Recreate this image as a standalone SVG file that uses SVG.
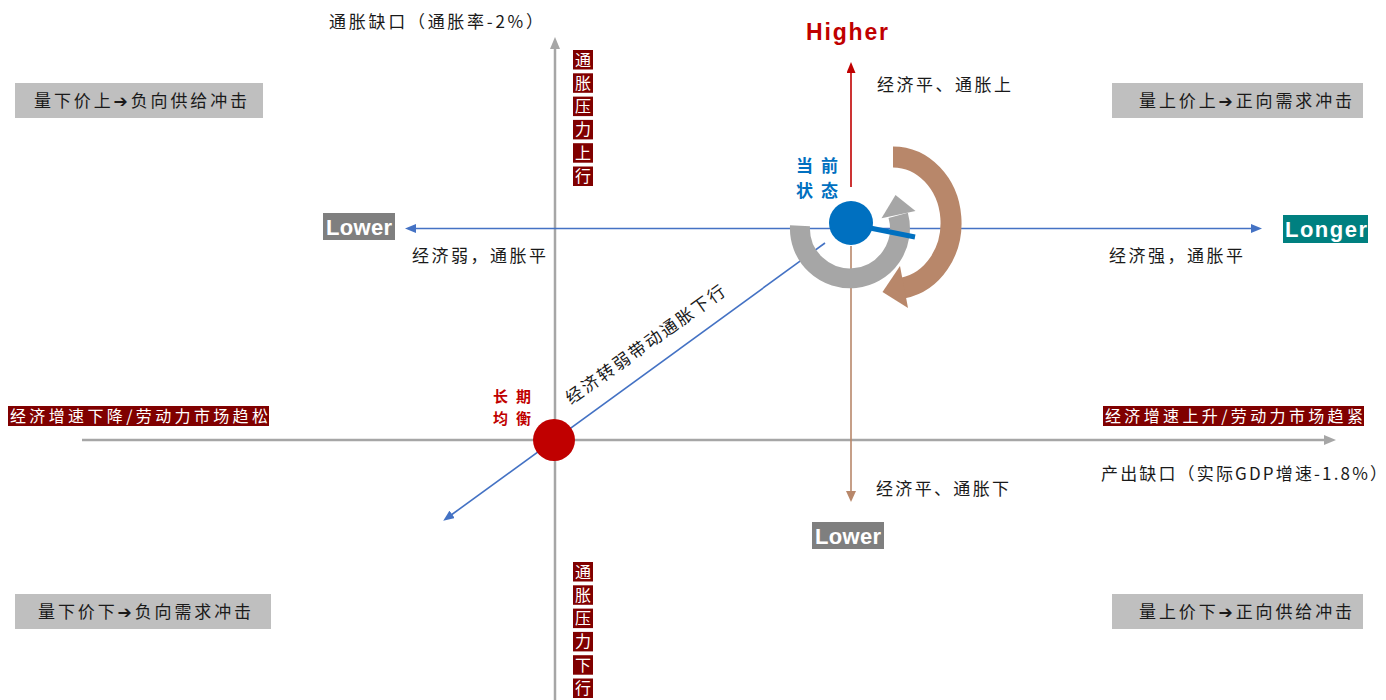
<svg xmlns="http://www.w3.org/2000/svg" width="1386" height="700" viewBox="0 0 1386 700">
<style>
.cn{font-family:"Noto Sans CJK SC","DejaVu Sans",sans-serif;font-size:17px;fill:#1a1a1a}
.arw{font-family:"DejaVu Sans",sans-serif;font-weight:bold}
.wh{font-family:"Noto Sans CJK SC",sans-serif;font-size:16px;fill:#ffffff}
.vb{font-family:"Noto Sans CJK SC",sans-serif;font-size:16px;fill:#ffffff;text-anchor:middle}
.en{font-family:"Liberation Sans",Arial,sans-serif;font-weight:bold;font-size:22px;fill:#ffffff}
.gbox{fill:#BFBFBF}
.rbox{fill:#800000}
.ax{stroke:#A6A6A6;stroke-width:2.5;fill:none}
.bl{stroke:#4472C4;stroke-width:1.6;fill:none}
</style>
<defs>
<marker id="ag" viewBox="0 0 12 10" refX="2" refY="5" markerWidth="12" markerHeight="10" markerUnits="userSpaceOnUse" orient="auto"><path d="M0,0L12,5L0,10z" fill="#A6A6A6"/></marker>
<marker id="ab" viewBox="0 0 11 9" refX="2" refY="4.5" markerWidth="11" markerHeight="9" markerUnits="userSpaceOnUse" orient="auto-start-reverse"><path d="M0,0L11,4.5L0,9z" fill="#4472C4"/></marker>
<marker id="ar" viewBox="0 0 11 9" refX="2" refY="4.5" markerWidth="11" markerHeight="9" markerUnits="userSpaceOnUse" orient="auto"><path d="M0,0L11,4.5L0,9z" fill="#C00000"/></marker>
<marker id="abr" viewBox="0 0 11 10" refX="2" refY="5" markerWidth="11" markerHeight="10" markerUnits="userSpaceOnUse" orient="auto"><path d="M0,0L11,5L0,10z" fill="#B8876A"/></marker>
</defs>

<g id="connectors">
<line class="ax" x1="555" y1="700" x2="555" y2="47" marker-end="url(#ag)"/>
<line class="ax" x1="82" y1="440" x2="1326" y2="440" marker-end="url(#ag)"/>
<line class="bl" x1="414" y1="228.5" x2="1253" y2="228.5" marker-start="url(#ab)" marker-end="url(#ab)"/>
<line stroke="#C00000" stroke-width="1.6" x1="851" y1="187" x2="851" y2="71" marker-end="url(#ar)"/>
<line stroke="#B8876A" stroke-width="1.6" x1="851" y1="246" x2="851" y2="493" marker-end="url(#abr)"/>
<line class="bl" x1="825" y1="243" x2="450.5" y2="515.5" marker-end="url(#ab)"/>
</g>

<g id="cycle">
<path d="M800,225.7 A50,50 0 1 0 898.2,215.3" fill="none" stroke="#A6A6A6" stroke-width="20"/>
<path d="M915.5,211 L895.5,195 L881.5,218.3 Z" fill="#A6A6A6"/>
<path d="M893,157 A58,66 0 0 1 903.1,288" fill="none" stroke="#B8876A" stroke-width="21"/>
<path d="M908,308 L882.5,292 L900,266 Z" fill="#B8876A"/>
</g>

<g id="current-state">
<circle cx="851" cy="223" r="22" fill="#0070C0"/>
<line x1="870" y1="228" x2="915" y2="237" stroke="#0070C0" stroke-width="5"/>
<text class="cn" x="796" y="172" textLength="42" style="font-weight:bold;fill:#0070C0">当前</text>
<text class="cn" x="796" y="197" textLength="42" style="font-weight:bold;fill:#0070C0">状态</text>
</g>

<g id="long-run-equilibrium">
<circle cx="554" cy="440" r="21" fill="#C00000"/>
<text class="cn" x="493" y="401.5" textLength="38" style="font-weight:bold;fill:#C00000;font-size:15px">长期</text>
<text class="cn" x="493" y="423.5" textLength="38" style="font-weight:bold;fill:#C00000;font-size:15px">均衡</text>
</g>

<g id="y-axis-title"><text class="cn" x="329" y="28" textLength="214">通胀缺口（通胀率-2%）</text></g>
<g id="x-axis-title"><text class="cn" x="1101" y="480" textLength="286">产出缺口（实际GDP增速-1.8%）</text></g>

<g id="higher"><text class="en" x="806" y="40" textLength="82" style="fill:#C00000;font-size:23px">Higher</text></g>
<g id="lower-left"><rect x="323" y="213" width="72" height="27" fill="#7F7F7F"/><text class="en" x="326" y="234.5" textLength="66">Lower</text></g>
<g id="longer"><rect x="1283" y="215" width="85" height="28" fill="#008080"/><text class="en" x="1285" y="237" textLength="82">Longer</text></g>
<g id="lower-bottom"><rect x="812" y="522" width="72" height="27" fill="#7F7F7F"/><text class="en" x="815" y="543.5" textLength="66">Lower</text></g>

<g id="label-up"><text class="cn" x="877" y="91" textLength="134">经济平、通胀上</text></g>
<g id="label-left"><text class="cn" x="412" y="262" textLength="134">经济弱，通胀平</text></g>
<g id="label-right"><text class="cn" x="1109" y="262" textLength="134">经济强，通胀平</text></g>
<g id="label-down"><text class="cn" x="876" y="495" textLength="133">经济平、通胀下</text></g>
<g id="label-diagonal"><text class="cn" transform="translate(571,405) rotate(-35.5)" x="0" y="0" textLength="191">经济转弱带动通胀下行</text></g>

<g id="q-top-left"><rect class="gbox" x="15" y="83" width="248" height="35"/><text class="cn" x="34" y="107" textLength="213">量下价上<tspan class="arw">➔</tspan>负向供给冲击</text></g>
<g id="q-top-right"><rect class="gbox" x="1112" y="83" width="251" height="35"/><text class="cn" x="1139" y="107" textLength="213">量上价上<tspan class="arw">➔</tspan>正向需求冲击</text></g>
<g id="q-bottom-left"><rect class="gbox" x="15" y="594" width="256" height="35"/><text class="cn" x="38" y="618" textLength="213">量下价下<tspan class="arw">➔</tspan>负向需求冲击</text></g>
<g id="q-bottom-right"><rect class="gbox" x="1112" y="594" width="251" height="35"/><text class="cn" x="1139" y="618" textLength="213">量上价下<tspan class="arw">➔</tspan>正向供给冲击</text></g>

<g id="tag-left"><rect class="rbox" x="8" y="406" width="261" height="20"/><text class="wh" x="10" y="421.5" textLength="258">经济增速下降/劳动力市场趋松</text></g>
<g id="tag-right"><rect class="rbox" x="1103" y="406" width="261" height="20"/><text class="wh" x="1105" y="421.5" textLength="258">经济增速上升/劳动力市场趋紧</text></g>

<g id="tag-up">
<rect class="rbox" x="573" y="50" width="20" height="19.5"/><text class="vb" x="583" y="65.5">通</text>
<rect class="rbox" x="573" y="73.3" width="20" height="19.5"/><text class="vb" x="583" y="88.8">胀</text>
<rect class="rbox" x="573" y="96.6" width="20" height="19.5"/><text class="vb" x="583" y="112.1">压</text>
<rect class="rbox" x="573" y="119.9" width="20" height="19.5"/><text class="vb" x="583" y="135.4">力</text>
<rect class="rbox" x="573" y="143.2" width="20" height="19.5"/><text class="vb" x="583" y="158.7">上</text>
<rect class="rbox" x="573" y="166.5" width="20" height="19.5"/><text class="vb" x="583" y="182">行</text>
</g>
<g id="tag-down">
<rect class="rbox" x="573" y="562" width="20" height="19.5"/><text class="vb" x="583" y="577.5">通</text>
<rect class="rbox" x="573" y="585.3" width="20" height="19.5"/><text class="vb" x="583" y="600.8">胀</text>
<rect class="rbox" x="573" y="608.6" width="20" height="19.5"/><text class="vb" x="583" y="624.1">压</text>
<rect class="rbox" x="573" y="631.9" width="20" height="19.5"/><text class="vb" x="583" y="647.4">力</text>
<rect class="rbox" x="573" y="655.2" width="20" height="19.5"/><text class="vb" x="583" y="670.7">下</text>
<rect class="rbox" x="573" y="678.5" width="20" height="19.5"/><text class="vb" x="583" y="694">行</text>
</g>
</svg>
